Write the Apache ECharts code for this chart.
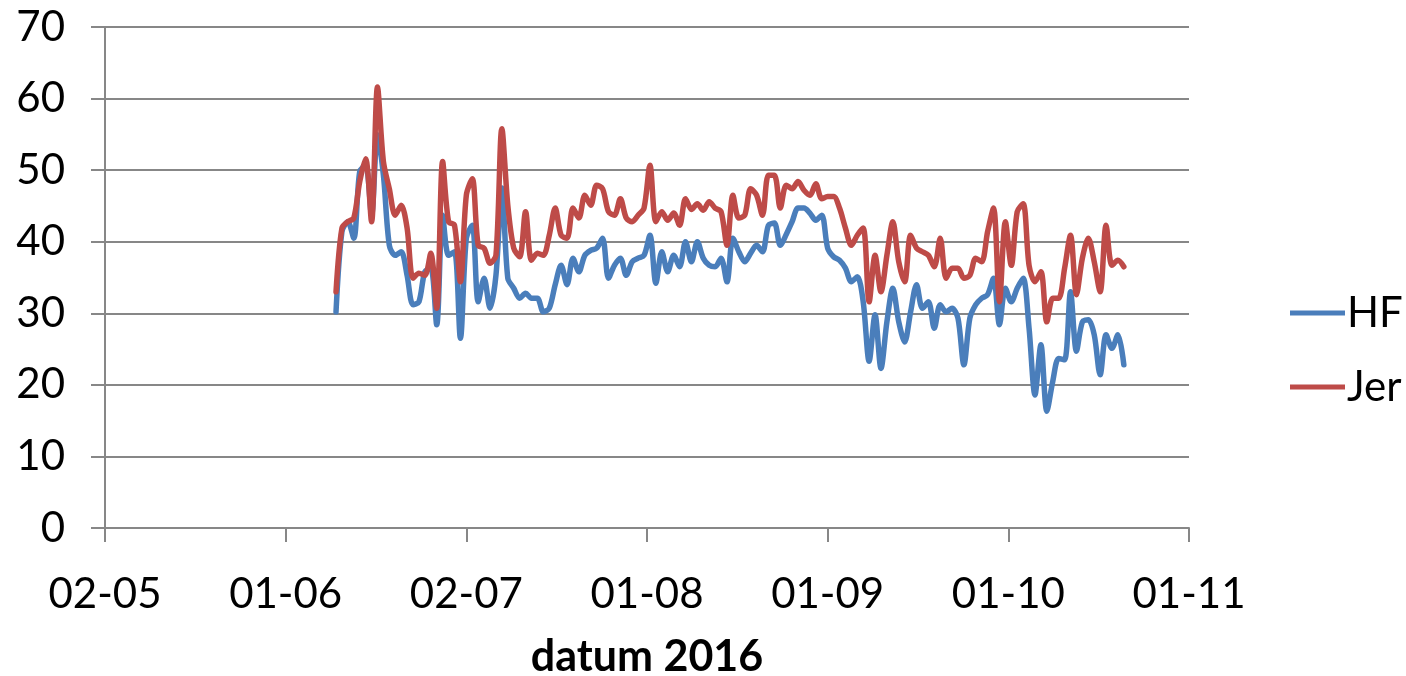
<!DOCTYPE html>
<html>
<head>
<meta charset="utf-8">
<title>HF / Jer 2016</title>
<script src="https://cdn.jsdelivr.net/npm/echarts@6/dist/echarts.min.js"></script>
<style>
  html, body { margin: 0; padding: 0; background: #fff; }
  #chart { width: 1406px; height: 676px; }
</style>
</head>
<body>
<div id="chart"></div>
<script>
// Axis range (dates, 2016) and tick step in days
const axisStart = '2016-05-02';
const axisEnd = '2016-11-01';
const tickStepDays = 30.5;

// Daily readings starting on this date
const firstDay = '2016-06-10';

const seriesNames = ['HF', 'Jer'];

const hf = [
  30.2, 41.4, 42.8, 40.5, 49.8, 50.7, 43.7, 55.0, 49.3, 39.5,
  38.1, 38.6, 35.3, 31.2, 31.6, 35.8, 36.3, 28.4, 43.7, 38.1,
  38.6, 26.5, 40.5, 42.3, 31.6, 34.9, 30.7, 35.3, 47.5, 34.9,
  33.5, 32.1, 32.8, 32.1, 32.1, 30.2, 30.7, 34.0, 36.7, 34.0,
  37.7, 35.8, 38.1, 38.8, 39.1, 40.5, 34.9, 36.7, 37.7, 35.3,
  37.2, 37.7, 38.1, 40.9, 34.2, 38.6, 35.8, 38.1, 36.5, 40.0,
  37.2, 40.0, 37.7, 36.7, 36.5, 37.7, 34.4, 40.5, 38.6, 37.2,
  38.4, 39.5, 38.6, 42.3, 42.6, 39.5, 41.0, 42.8, 44.7, 44.7,
  44.0, 43.0, 43.7, 39.1, 37.9, 37.4, 36.3, 34.4, 35.1, 31.6,
  23.3, 29.8, 22.3, 28.8, 33.5, 28.8, 26.0, 30.2, 34.0, 30.7,
  31.6, 27.9, 31.2, 30.2, 30.7, 29.3, 22.8, 29.3, 31.2, 32.1,
  32.6, 34.9, 28.4, 33.5, 31.6, 33.5, 34.9, 27.9, 18.6, 25.6,
  16.3, 20.5, 23.7, 23.5, 33.0, 24.7, 28.8, 29.1, 27.0, 21.4,
  27.0, 25.1, 27.0, 22.8
];

const jer = [
  33.0, 41.9, 42.8, 43.3, 48.4, 51.6, 42.8, 61.6, 51.2, 47.4,
  43.7, 45.1, 41.9, 34.9, 35.6, 35.3, 38.4, 30.7, 51.2, 42.8,
  42.3, 34.4, 46.5, 48.8, 39.5, 39.1, 37.0, 38.1, 55.8, 45.1,
  39.1, 37.9, 44.2, 37.4, 38.4, 38.1, 40.9, 44.7, 40.9, 40.5,
  44.7, 43.3, 46.5, 45.1, 47.9, 47.4, 44.2, 43.7, 46.0, 43.3,
  42.8, 43.7, 44.7, 50.7, 42.8, 44.2, 43.0, 44.0, 42.3, 46.0,
  44.5, 45.3, 44.4, 45.6, 44.7, 44.2, 39.5, 46.5, 43.3, 43.7,
  47.4, 46.5, 43.7, 49.3, 49.3, 44.7, 47.9, 47.4, 48.4, 47.2,
  46.5, 48.1, 46.0, 46.3, 46.3, 44.7, 41.9, 39.5, 40.9, 41.9,
  31.6, 38.1, 33.0, 38.1, 42.8, 37.2, 34.4, 40.9, 39.1, 38.6,
  38.1, 36.5, 40.5, 34.9, 36.3, 36.3, 34.9, 35.3, 37.7, 37.2,
  41.4, 44.7, 31.6, 42.8, 36.7, 44.2, 45.3, 36.7, 34.4, 35.8,
  28.8, 32.1, 32.1, 36.3, 40.9, 32.6, 37.7, 40.5, 37.2, 33.0,
  42.3, 36.7, 37.4, 36.5
];

const yTicks = [0, 10, 20, 30, 40, 50, 60, 70];

const DAY = 86400000;
const t0 = Date.parse(axisStart + 'T00:00:00Z');
const tEnd = Date.parse(axisEnd + 'T00:00:00Z');
const tFirst = Date.parse(firstDay + 'T00:00:00Z');

// x values are days since the axis start
function toPairs(values) {
  const offset = Math.round((tFirst - t0) / DAY);
  return values.map((v, i) => [offset + i, v]);
}

function dayLabel(v) {
  const d = new Date(t0 + Math.floor(v + 1e-6) * DAY);
  const dd = String(d.getUTCDate()).padStart(2, '0');
  const mm = String(d.getUTCMonth() + 1).padStart(2, '0');
  return dd + '-' + mm;
}

const FONT = 'Lato';
const GRAY = '#878787';
const COLORS = ['#4a7ebb', '#be4b48'];

const chart = echarts.init(document.getElementById('chart'), null, { renderer: 'canvas' });

chart.setOption({
  animation: false,
  backgroundColor: '#ffffff',
  color: COLORS,
  grid: { left: 105, right: 217, top: 27, bottom: 148, containLabel: false, outerBoundsMode: 'none' },
  legend: {
    orient: 'vertical',
    left: 1285,
    top: 287,
    icon: 'rect',
    itemWidth: 55,
    itemHeight: 5,
    itemGap: 32,
    data: seriesNames,
    textStyle: { fontFamily: FONT, fontSize: 42, color: '#000', lineHeight: 42, padding: [0, 0, 0, -3] }
  },
  xAxis: {
    type: 'value',
    min: 0,
    max: Math.round((tEnd - t0) / DAY),
    interval: tickStepDays,
    name: 'datum 2016',
    nameLocation: 'middle',
    nameGap: 108,
    nameTextStyle: { fontFamily: FONT, fontSize: 43, fontWeight: 'bold', color: '#000' },
    axisLine: { show: true, lineStyle: { color: GRAY, width: 2 } },
    axisTick: { show: true, length: 14, lineStyle: { color: GRAY, width: 2 } },
    axisLabel: { fontFamily: FONT, fontSize: 42, color: '#000', margin: 45, formatter: dayLabel },
    splitLine: { show: false }
  },
  yAxis: {
    type: 'value',
    min: yTicks[0],
    max: yTicks[yTicks.length - 1],
    interval: yTicks[1] - yTicks[0],
    axisLine: { show: true, lineStyle: { color: GRAY, width: 2 } },
    axisTick: { show: true, length: 14, lineStyle: { color: GRAY, width: 2 } },
    axisLabel: { fontFamily: FONT, fontSize: 42, color: '#000', margin: 40 },
    splitLine: { show: true, lineStyle: { color: GRAY, width: 2 } }
  },
  series: [
    {
      name: seriesNames[0],
      type: 'line',
      data: toPairs(hf),
      smooth: 0.3,
      symbol: 'none',
      lineStyle: { width: 5.5, color: COLORS[0], cap: 'round', join: 'round' },
      z: 2
    },
    {
      name: seriesNames[1],
      type: 'line',
      data: toPairs(jer),
      smooth: 0.3,
      symbol: 'none',
      lineStyle: { width: 5.5, color: COLORS[1], cap: 'round', join: 'round' },
      z: 3
    }
  ]
});
</script>
</body>
</html>
